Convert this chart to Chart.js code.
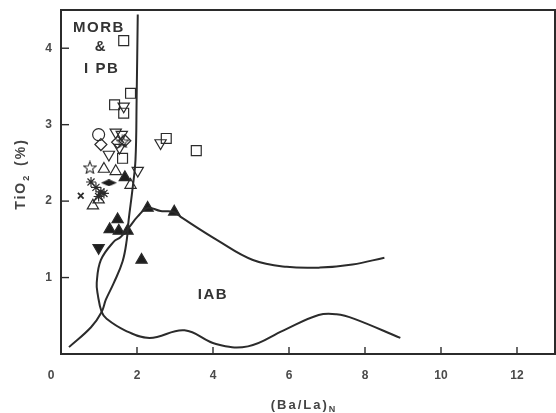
<!DOCTYPE html>
<html>
<head>
<meta charset="utf-8">
<script src="https://cdn.jsdelivr.net/npm/chart.js@4"></script>
<style>
  html, body { margin: 0; padding: 0; background: #fff; }
</style>
</head>
<body>
<canvas id="myChart" width="556" height="413"></canvas>
<script>
// axis ticks
const xTicks = [0, 2, 4, 6, 8, 10, 12];
const yTicks = [1, 2, 3, 4];

// sample points, (Ba/La)N vs TiO2
const openSquares = [
  { x: 1.65, y: 4.10 }, { x: 1.83, y: 3.41 }, { x: 1.41, y: 3.26 }, { x: 1.65, y: 3.15 },
  { x: 2.77, y: 2.82 }, { x: 3.56, y: 2.66 }, { x: 1.62, y: 2.56 }
];
const openDownTriangles = [
  { x: 1.65, y: 3.24 }, { x: 1.44, y: 2.90 }, { x: 1.60, y: 2.87 }, { x: 1.54, y: 2.70 },
  { x: 1.26, y: 2.61 }, { x: 2.02, y: 2.40 }, { x: 2.62, y: 2.76 }
];
const openCircles = [{ x: 0.99, y: 2.87 }];
const openDiamonds = [{ x: 1.05, y: 2.74 }, { x: 1.49, y: 2.77 }, { x: 1.68, y: 2.79 }];
const openStars = [{ x: 0.76, y: 2.44 }, { x: 1.62, y: 2.78 }];
const openUpTriangles = [
  { x: 1.13, y: 2.42 }, { x: 1.44, y: 2.39 }, { x: 1.83, y: 2.21 }, { x: 0.84, y: 1.94 }, { x: 0.99, y: 2.02 }
];
const asterisks = [
  { x: 0.79, y: 2.25 }, { x: 0.92, y: 2.18 }, { x: 1.05, y: 2.12 }, { x: 1.13, y: 2.10 }, { x: 0.99, y: 2.06 }
];
const crosses = [{ x: 0.52, y: 2.07 }];
const filledDiamonds = [{ x: 1.26, y: 2.24 }];
const filledUpTriangles = [
  { x: 1.68, y: 2.31 }, { x: 2.28, y: 1.91 }, { x: 2.98, y: 1.86 }, { x: 1.49, y: 1.76 },
  { x: 1.28, y: 1.63 }, { x: 1.52, y: 1.61 }, { x: 1.75, y: 1.61 }, { x: 2.12, y: 1.23 }
];
const filledDownTriangles = [{ x: 0.99, y: 1.39 }];

// field boundaries
const morbBoundary = [
  { x: 2.02, y: 4.44 }, { x: 1.99, y: 3.33 }, { x: 1.96, y: 2.54 }, { x: 1.88, y: 2.15 },
  { x: 1.78, y: 1.75 }, { x: 1.73, y: 1.49 }, { x: 1.62, y: 1.21 }, { x: 1.39, y: 0.93 },
  { x: 1.18, y: 0.71 }, { x: 1.07, y: 0.55 }, { x: 0.79, y: 0.35 }, { x: 0.21, y: 0.09 }
];
const iabBoundary = [
  { x: 8.51, y: 1.26 }, { x: 7.67, y: 1.17 }, { x: 6.81, y: 1.13 }, { x: 5.94, y: 1.14 },
  { x: 5.05, y: 1.23 }, { x: 4.11, y: 1.49 }, { x: 3.19, y: 1.78 }, { x: 2.96, y: 1.86 },
  { x: 2.62, y: 1.87 }, { x: 2.28, y: 1.91 }, { x: 2.02, y: 1.80 }, { x: 1.78, y: 1.65 },
  { x: 1.57, y: 1.53 }, { x: 1.39, y: 1.47 }, { x: 1.05, y: 1.23 }, { x: 0.94, y: 0.93 },
  { x: 0.97, y: 0.77 }, { x: 1.07, y: 0.55 }, { x: 1.20, y: 0.46 }, { x: 1.68, y: 0.31 },
  { x: 2.33, y: 0.21 }, { x: 3.25, y: 0.31 }, { x: 4.08, y: 0.13 }, { x: 4.92, y: 0.10 },
  { x: 5.86, y: 0.31 }, { x: 6.78, y: 0.51 }, { x: 7.25, y: 0.52 }, { x: 7.72, y: 0.46 },
  { x: 8.93, y: 0.21 }
];

// field names
const fieldLabels = [
  { text: 'MORB', x: 1.0, y: 4.27 },
  { text: '&', x: 1.05, y: 4.02 },
  { text: 'I PB', x: 1.07, y: 3.73 },
  { text: 'IAB', x: 4.0, y: 0.77 }
];

const INK = '#2b2b2b';
const FONT = '"Liberation Sans", Arial, sans-serif';

function starImage(size) {
  const c = document.createElement('canvas');
  c.width = c.height = size;
  const g = c.getContext('2d');
  g.strokeStyle = INK;
  g.lineWidth = 1.1;
  g.beginPath();
  for (let i = 0; i < 10; i++) {
    const r = i % 2 ? size * 0.2 : size * 0.46;
    const a = -Math.PI / 2 + i * Math.PI / 5;
    const px = size / 2 + r * Math.cos(a);
    const py = size / 2 + r * Math.sin(a) + size * 0.04;
    if (i) g.lineTo(px, py); else g.moveTo(px, py);
  }
  g.closePath();
  g.stroke();
  return c;
}

function eyeImage() {
  const c = document.createElement('canvas');
  c.width = 16; c.height = 7;
  const g = c.getContext('2d');
  g.fillStyle = '#1e1e1e';
  g.beginPath();
  g.moveTo(0, 3.5); g.lineTo(8, 0); g.lineTo(16, 3.5); g.lineTo(8, 7);
  g.closePath();
  g.fill();
  return c;
}

function pts(data, style, opts) {
  return Object.assign({
    data,
    pointStyle: style,
    pointRadius: 6,
    pointBorderWidth: 1.2,
    pointBorderColor: INK,
    pointBackgroundColor: 'rgba(0,0,0,0)',
    showLine: false
  }, opts || {});
}

function curve(data) {
  return {
    data,
    showLine: true,
    borderColor: INK,
    borderWidth: 2,
    pointRadius: 0,
    tension: 0.4,
    fill: false
  };
}

function noPad(s) {
  s.paddingTop = 0; s.paddingBottom = 0; s.paddingLeft = 0; s.paddingRight = 0;
}

const frame = {
  id: 'frame',
  afterDraw(chart) {
    const { ctx, chartArea: a, scales: { x, y } } = chart;
    ctx.save();
    ctx.strokeStyle = INK;
    ctx.lineWidth = 2;
    ctx.strokeRect(a.left, a.top, a.right - a.left, a.bottom - a.top);

    ctx.lineWidth = 1.4;
    xTicks.forEach(v => {
      if (v === 0) return;
      const px = x.getPixelForValue(v);
      ctx.beginPath(); ctx.moveTo(px, a.bottom); ctx.lineTo(px, a.bottom - 7); ctx.stroke();
    });
    yTicks.forEach(v => {
      const py = y.getPixelForValue(v);
      ctx.beginPath(); ctx.moveTo(a.left, py); ctx.lineTo(a.left + 8, py); ctx.stroke();
    });

    ctx.fillStyle = '#333';
    ctx.textAlign = 'center';
    ctx.textBaseline = 'middle';
    ctx.font = 'bold 15px ' + FONT;
    ctx.letterSpacing = '1.5px';
    fieldLabels.forEach(l => {
      ctx.fillText(l.text, x.getPixelForValue(l.x), y.getPixelForValue(l.y));
    });

    // x title with subscript
    ctx.fillStyle = '#444';
    ctx.letterSpacing = '2px';
    ctx.textAlign = 'left';
    ctx.font = 'bold 13px ' + FONT;
    const w1 = ctx.measureText('(Ba/La)').width;
    ctx.font = 'bold 9px ' + FONT;
    const w2 = ctx.measureText('N').width;
    const sx = (a.left + a.right) / 2 - 4 - (w1 + w2) / 2;
    ctx.font = 'bold 13px ' + FONT;
    ctx.fillText('(Ba/La)', sx, 405);
    ctx.font = 'bold 9px ' + FONT;
    ctx.fillText('N', sx + w1, 410);

    // y title, rotated
    ctx.translate(21, 175);
    ctx.rotate(-Math.PI / 2);
    ctx.letterSpacing = '2px';
    ctx.font = 'bold 14px ' + FONT;
    const a1 = ctx.measureText('TiO').width;
    const a3 = ctx.measureText(' (%)').width;
    ctx.font = 'bold 9px ' + FONT;
    const a2 = ctx.measureText('2').width;
    const ty = -(a1 + a2 + a3) / 2;
    ctx.font = 'bold 14px ' + FONT;
    ctx.fillText('TiO', ty, 0);
    ctx.font = 'bold 9px ' + FONT;
    ctx.fillText('2', ty + a1, 6);
    ctx.font = 'bold 14px ' + FONT;
    ctx.fillText(' (%)', ty + a1 + a2 + 2, 0);
    ctx.restore();
  }
};

const ctx = document.getElementById('myChart').getContext('2d');

const chart = new Chart(ctx, {
  type: 'scatter',
  data: {
    datasets: [
      curve(morbBoundary),
      curve(iabBoundary),
      pts(openSquares, 'rect', { pointRadius: 7 }),
      pts(openDownTriangles, 'triangle', { pointRotation: 180, pointRadius: 6.5 }),
      pts(openCircles, 'circle', { pointRadius: 6 }),
      pts(openDiamonds, 'rectRot', { pointRadius: 6 }),
      pts(openStars, starImage(14)),
      pts(openUpTriangles, 'triangle', { pointRadius: 6.5 }),
      pts(asterisks, 'star', { pointRadius: 5 }),
      pts(crosses, 'crossRot', { pointRadius: 4, pointBorderWidth: 1.8 }),
      pts(filledDiamonds, eyeImage()),
      pts(filledUpTriangles, 'triangle', { pointRadius: 6.5, pointBackgroundColor: '#1e1e1e' }),
      pts(filledDownTriangles, 'triangle', { pointRotation: 180, pointRadius: 6.5, pointBackgroundColor: '#1e1e1e' })
    ]
  },
  options: {
    responsive: false,
    animation: false,
    layout: { autoPadding: false, padding: { left: 0, top: 10, right: 1, bottom: 0 } },
    plugins: { legend: { display: false }, tooltip: { enabled: false } },
    scales: {
      x: {
        type: 'linear',
        min: 0,
        max: 13,
        afterFit: s => { s.height = 59; noPad(s); },
        afterBuildTicks: s => { s.ticks = xTicks.map(v => ({ value: v })); },
        grid: { display: false, drawTicks: false },
        border: { display: false },
        ticks: {
          color: '#4a4a4a',
          padding: 14,
          font: { size: 12, weight: 'bold', family: FONT },
          callback: v => (v === 0 ? '0      ' : String(v))
        }
      },
      y: {
        type: 'linear',
        min: 0,
        max: 4.5,
        afterFit: s => { s.width = 61; noPad(s); },
        afterBuildTicks: s => { s.ticks = yTicks.map(v => ({ value: v })); },
        grid: { display: false, drawTicks: false },
        border: { display: false },
        ticks: {
          color: '#4a4a4a',
          padding: 9,
          font: { size: 12, weight: 'bold', family: FONT }
        }
      }
    }
  },
  plugins: [frame]
});
</script>
</body>
</html>
